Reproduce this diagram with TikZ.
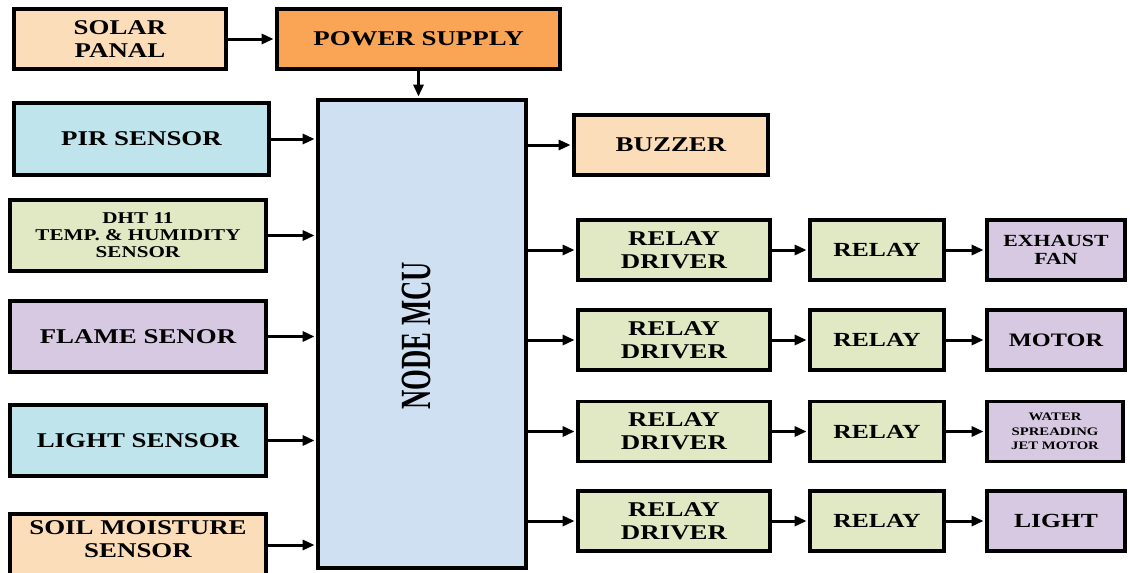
\documentclass[tikz,border=0pt]{standalone}
\usepackage{fontspec}
\setmainfont{Liberation Serif}[FakeStretch=1.28]
\newfontfamily\mcufont{Liberation Serif}[FakeStretch=0.62]
\usetikzlibrary{arrows.meta}
\definecolor{peach}{RGB}{251,221,186}
\definecolor{orangeps}{RGB}{249,165,85}
\definecolor{skyb}{RGB}{191,228,236}
\definecolor{greenb}{RGB}{224,233,196}
\definecolor{lavb}{RGB}{214,201,225}
\definecolor{mcub}{RGB}{206,224,242}
\begin{document}
\begin{tikzpicture}[x=1pt,y=-1pt,
  box/.style={draw=black, line width=3.8pt, align=center, inner sep=0pt,
    font=\bfseries\fontsize{21}{23}\selectfont},
  txt/.style={align=center, inner sep=0pt, font=\bfseries\fontsize{21}{23}\selectfont},
  arr/.style={line width=3pt, shorten >=1.5pt, -{Triangle[length=12pt,width=10pt]}}]
\useasboundingbox (0,0) rectangle (1130,573);

% top row
\node[box, fill=peach, minimum width=212, minimum height=60] (solar) at (120,39) {SOLAR\\PANAL};
\node[box, fill=orangeps, minimum width=283, minimum height=60] (power) at (418.5,39) {\raisebox{-2pt}{POWER SUPPLY}};

% central MCU
\node[box, fill=mcub, minimum width=208, minimum height=468] (mcu) at (422,334) {};
\node[rotate=90, inner sep=0pt, font=\mcufont\bfseries\fontsize{43}{43}\selectfont] (mcutxt) at (416,336) {NODE MCU};

% inputs
\node[box, fill=skyb, minimum width=255, minimum height=72] (pir) at (141.5,139) {\raisebox{-2pt}{PIR SENSOR}};
\node[box, fill=greenb, minimum width=256, minimum height=71, font=\bfseries\fontsize{16.5}{17}\selectfont] (dht) at (138,235.5) {DHT 11\\TEMP. \& HUMIDITY\\SENSOR};
\node[box, fill=lavb, minimum width=256, minimum height=71] (flame) at (138,336.5) {FLAME SENOR};
\node[box, fill=skyb, minimum width=256, minimum height=71] (light) at (138,440.5) {LIGHT SENSOR};
\node[box, fill=peach, minimum width=256, minimum height=76, anchor=north] (soil) at (138,512) {};
\node[txt] (soiltxt) at (138,539) {SOIL MOISTURE\\SENSOR};

% outputs
\node[box, fill=peach, minimum width=194, minimum height=60] (buzzer) at (671,145) {\raisebox{-2pt}{BUZZER}};

\foreach \i/\y in {1/250,2/340,3/431.5,4/521}{
  \node[box, fill=greenb, minimum width=192, minimum height=60] (rd\i) at (674,\y) {RELAY\\DRIVER};
  \node[box, fill=greenb, minimum width=134, minimum height=60, font=\bfseries\fontsize{20}{22}\selectfont] (rl\i) at (877,\y) {\raisebox{-2pt}{RELAY}};
}
\node[box, fill=lavb, minimum width=138, minimum height=60, font=\bfseries\fontsize{17}{18}\selectfont] (out1) at (1056,250) {EXHAUST\\FAN};
\node[box, fill=lavb, minimum width=138, minimum height=60, font=\bfseries\fontsize{19}{21}\selectfont] (out2) at (1056,340) {\raisebox{-2pt}{MOTOR}};
\node[box, fill=lavb, minimum width=136, minimum height=60, font=\bfseries\fontsize{11.5}{14.5}\selectfont] (out3) at (1055,431.5) {WATER\\SPREADING\\JET MOTOR};
\node[box, fill=lavb, minimum width=138, minimum height=60, font=\bfseries\fontsize{20}{22}\selectfont] (out4) at (1056,521) {\raisebox{-2pt}{LIGHT}};

% connectors
\draw[arr] (solar.east) -- (power.west);
\draw[arr] (power.south) -- (power.south |- mcu.north);
\draw[arr] (pir.east) -- (pir.east -| mcu.west);
\draw[arr] (dht.east) -- (dht.east -| mcu.west);
\draw[arr] (flame.east) -- (flame.east -| mcu.west);
\draw[arr] (light.east) -- (light.east -| mcu.west);
\draw[arr] (soil.east |- 0,545) -- (mcu.west |- 0,545);
\draw[arr] (mcu.east |- buzzer.west) -- (buzzer.west);
\foreach \i in {1,2,3,4}{
  \draw[arr] (mcu.east |- rd\i.west) -- (rd\i.west);
  \draw[arr] (rd\i.east) -- (rl\i.west);
  \draw[arr] (rl\i.east) -- (out\i.west);
}
\end{tikzpicture}
\end{document}
